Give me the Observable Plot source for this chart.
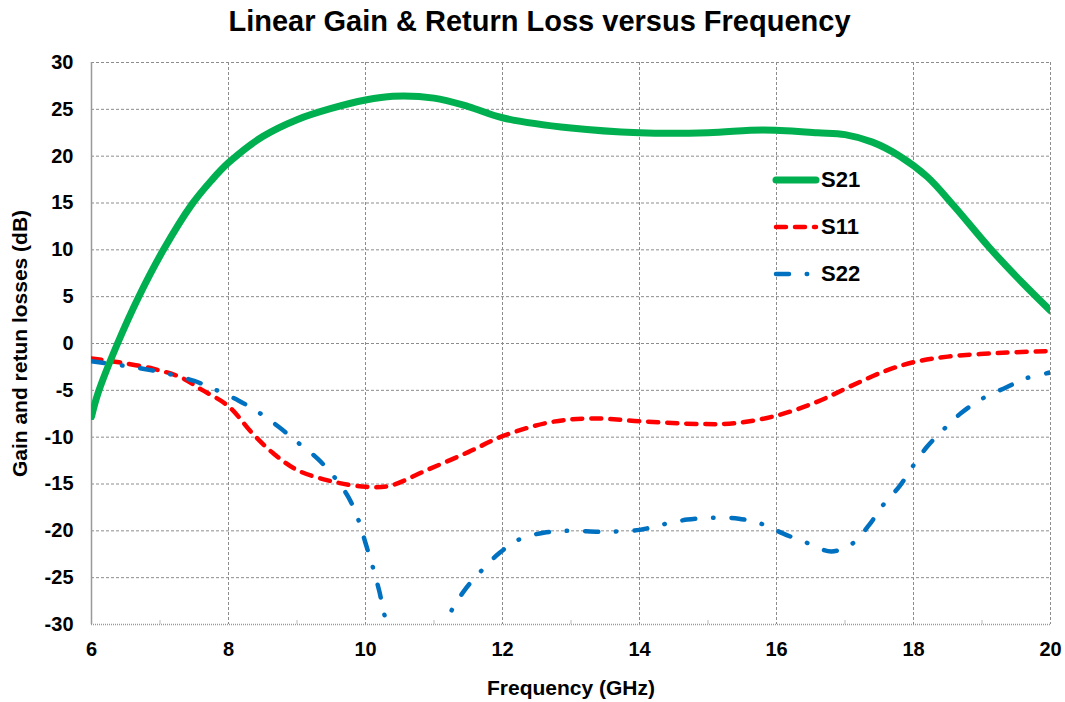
<!DOCTYPE html>
<html>
<head>
<meta charset="utf-8">
<script src="https://cdn.jsdelivr.net/npm/d3@7"></script>
<script src="https://cdn.jsdelivr.net/npm/@observablehq/plot@0.6"></script>
<style>
  html, body { margin: 0; padding: 0; background: #fff; }
  #wrap { position: relative; width: 1065px; height: 702px; font-family: "Liberation Sans", Arial, sans-serif; }
  #title { height: 40px; line-height: 42px; font-size: 29px; font-weight: bold; text-align: center; padding-left: 14px; box-sizing: border-box; color: #000; }
  .leg { position: absolute; left: 772px; display: flex; align-items: center; font-size: 22px; font-weight: bold; color: #000; }
  .leg svg { display: block; margin-right: 1px; }
</style>
</head>
<body>
<div id="wrap">
  <div id="title">Linear Gain &amp; Return Loss versus Frequency</div>
  <div id="chart"></div>
  <div id="legend"></div>
</div>
<script>
// ---- data ----
const freqS21 = [6, 6.1, 6.38, 6.69, 7.05, 7.46, 7.75, 8, 8.5, 9, 9.5, 10, 10.4, 11, 11.5, 12, 13, 14, 15, 15.8, 16.6, 17.0, 17.4, 17.8, 18.2, 18.6, 19.1, 19.6, 20];
const valS21  = [-7.8, -5.2, 0, 5, 10, 14.8, 17.4, 19.3, 22.1, 23.9, 25.1, 26.0, 26.4, 26.2, 25.3, 24.1, 23.0, 22.5, 22.5, 22.8, 22.5, 22.3, 21.5, 20.0, 17.8, 14.6, 10.3, 6.4, 3.5];

const freqS11 = [6, 6.4, 6.9, 7.3, 7.6, 8, 8.35, 8.65, 9, 9.5, 10, 10.35, 10.9, 11.5, 12, 12.7, 13.3, 14, 14.9, 15.4, 16, 16.6, 17.1, 17.6, 18, 18.5, 19.3, 20];
const valS11  = [-1.6, -2.0, -2.7, -3.6, -4.9, -6.7, -9.6, -11.7, -13.5, -14.7, -15.3, -15.2, -13.5, -11.6, -9.9, -8.4, -8.0, -8.3, -8.6, -8.5, -7.7, -6.2, -4.5, -2.9, -2.0, -1.4, -1.0, -0.8];

const freqS22 = [6, 6.4, 6.75, 7.1, 7.5, 7.8, 8.15, 8.45, 8.75, 9.0, 9.3, 9.55, 9.75, 9.9, 10.0, 10.1, 10.2, 10.3, 10.5, 10.75, 11.0, 11.2, 11.45, 11.7, 11.95, 12.25, 12.6, 12.95, 13.5, 14.0, 14.35, 14.7, 15.1, 15.45, 15.8, 16.1, 16.45, 16.8, 17.1, 17.35, 17.55, 17.8, 18.0, 18.2, 18.45, 18.7, 19.0, 19.35, 19.65, 20];
const valS22  = [-1.9, -2.3, -2.7, -3.2, -4.0, -4.9, -6.1, -7.4, -9.0, -10.5, -12.3, -14.3, -16.4, -18.9, -21.3, -23.7, -26.4, -29.6, -33.5, -35.5, -33.5, -29.3, -26.3, -24.2, -22.4, -20.9, -20.2, -20.0, -20.1, -19.9, -19.3, -18.8, -18.6, -18.7, -19.3, -20.3, -21.3, -22.2, -21.4, -19.4, -17.3, -15.2, -13.0, -11.0, -9.1, -7.4, -5.9, -4.7, -3.7, -3.1];

const seriesNames = ["S21", "S11", "S22"];
const xTicks = [6, 8, 10, 12, 14, 16, 18, 20];
const xMinorTicks = [7, 9, 11, 13, 15, 17, 19];
const yTicks = [-30, -25, -20, -15, -10, -5, 0, 5, 10, 15, 20, 25, 30];
const xLabel = "Frequency (GHz)";
const yLabel = "Gain and retun losses (dB)";

// ---- styles ----
const styles = {
  S21: {stroke: "#00B050", strokeWidth: 7, strokeDasharray: null},
  S11: {stroke: "#FF0000", strokeWidth: 4.5, strokeDasharray: "10,9"},
  S22: {stroke: "#0070C0", strokeWidth: 4.5, strokeDasharray: "13,17.7,0.5,18"}
};

const toRows = (fs, vs, name) => fs.map((f, i) => ({freq: f, val: vs[i], series: name}));
const data = {
  S21: toRows(freqS21, valS21, "S21"),
  S11: toRows(freqS11, valS11, "S11"),
  S22: toRows(freqS22, valS22, "S22")
};

const gridColor = "#8c8c8c";

const lineMark = (name) => Plot.line(data[name], {
  x: "freq", y: "val", curve: "catmull-rom", clip: true,
  stroke: styles[name].stroke, strokeWidth: styles[name].strokeWidth,
  strokeDasharray: styles[name].strokeDasharray,
  strokeLinecap: "round", strokeLinejoin: "round"
});

const chart = Plot.plot({
  width: 1065,
  height: 662,
  marginTop: 22,
  marginBottom: 78,
  marginLeft: 91,
  marginRight: 15,
  style: {fontFamily: "'Liberation Sans', Arial, sans-serif", fontWeight: "bold", fontSize: "20px", color: "#000", background: "#fff", overflow: "visible"},
  x: {domain: [6, 20]},
  y: {domain: [-30, 30]},
  marks: [
    Plot.ruleY(yTicks.filter(d => d > -30), {stroke: gridColor, strokeWidth: 1, strokeDasharray: "3,2"}),
    Plot.ruleX(xTicks.filter(d => d > 6), {stroke: gridColor, strokeWidth: 1, strokeDasharray: "3,2"}),
    Plot.ruleX(xTicks.filter(d => d === 6), {stroke: "#999", strokeWidth: 1.5}),
    Plot.ruleY(yTicks.filter(d => d === -30), {stroke: "#999", strokeWidth: 1.5, strokeDasharray: "1,1"}),
    Plot.axisX({ticks: xMinorTicks, tickSize: 4, dy: -4, tickFormat: () => "", stroke: "#bbb", label: null}),
    Plot.axisX({ticks: xTicks, tickSize: 0, tickPadding: 17, tickFormat: d => String(d), label: null, fontSize: 20}),
    Plot.axisY({ticks: yTicks, tickSize: 0, tickPadding: 18, tickFormat: d => String(d), label: null, fontSize: 20}),
    Plot.text([xLabel], {frameAnchor: "bottom", lineAnchor: "middle", textAnchor: "middle", dy: 64, fontSize: 21, fontWeight: "bold", fill: "#000"}),
    Plot.text([yLabel], {frameAnchor: "left", lineAnchor: "middle", textAnchor: "middle", dx: -71, rotate: -90, fontSize: 21, fontWeight: "bold", fill: "#000"}),
    lineMark("S11"),
    lineMark("S22"),
    lineMark("S21")
  ]
});
document.getElementById("chart").appendChild(chart);

// ---- legend ----
const legendTops = {S21: 180, S11: 227, S22: 274};
const legend = document.getElementById("legend");
for (const name of seriesNames) {
  const s = styles[name];
  const item = document.createElement("div");
  item.className = "leg";
  item.style.top = (legendTops[name] - 14) + "px";
  const dash = s.strokeDasharray ? `stroke-dasharray="${s.strokeDasharray}"` : "";
  item.innerHTML = `<svg width="48" height="28"><line x1="4" x2="44" y1="14" y2="14" stroke="${s.stroke}" stroke-width="${s.strokeWidth}" stroke-linecap="round" ${dash}/></svg><span>${name}</span>`;
  legend.appendChild(item);
}
</script>
</body>
</html>
